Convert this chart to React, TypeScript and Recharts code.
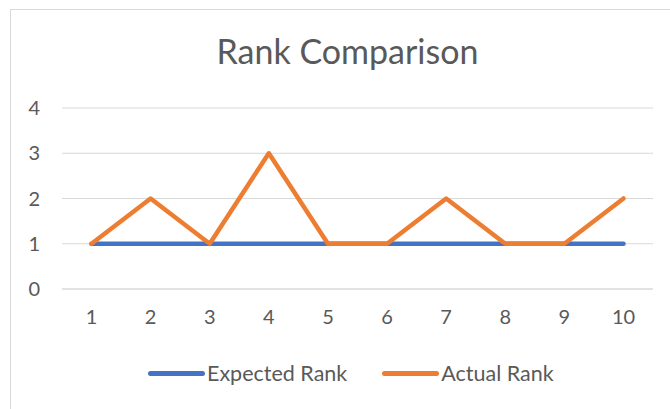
import { LineChart, Line, XAxis, YAxis, CartesianGrid } from "recharts";

const categories = ["1", "2", "3", "4", "5", "6", "7", "8", "9", "10"];
const expectedRank = [1, 1, 1, 1, 1, 1, 1, 1, 1, 1];
const actualRank = [1, 2, 1, 3, 1, 1, 2, 1, 1, 2];
const yTicks = [0, 1, 2, 3, 4];

const BLUE = "#4472C4";
const ORANGE = "#ED7D31";
const TEXT = "#595959";
const FONT = "Lato, 'Open Sans', sans-serif";

const data = categories.map((c, i) => ({
  name: c,
  expected: expectedRank[i],
  actual: actualRank[i],
}));

function LegendItem({ color, label }: { color: string; label: string }) {
  return (
    <span style={{ display: "inline-flex", alignItems: "center" }}>
      <span
        style={{
          display: "inline-block",
          width: 57,
          height: 5,
          borderRadius: 3,
          background: color,
          marginRight: 2,
        }}
      />
      <span>{label}</span>
    </span>
  );
}

export default function App() {
  return (
    <div
      style={{
        position: "absolute",
        left: 0,
        top: 0,
        width: 670,
        height: 409,
        overflow: "hidden",
        background: "#fff",
        fontFamily: FONT,
      }}
    >
      <div
        style={{
          position: "absolute",
          left: 10,
          top: 9,
          width: 700,
          height: 420,
          border: "1px solid #d9d9d9",
        }}
      />
      <div
        style={{
          position: "absolute",
          left: 10,
          width: 675,
          top: 31,
          textAlign: "center",
          fontSize: 34,
          color: TEXT,
          lineHeight: "40px",
        }}
      >
        Rank Comparison
      </div>
      <LineChart
        width={670}
        height={409}
        data={data}
        margin={{ top: 108, right: 17, bottom: 90, left: 0 }}
        style={{ position: "absolute", left: 0, top: 0 }}
      >
        <CartesianGrid stroke="#d9d9d9" vertical={false} />
        <XAxis
          dataKey="name"
          height={30}
          padding={{ left: 29.5, right: 29.5 }}
          axisLine={{ stroke: "#d9d9d9" }}
          tickLine={false}
          tickSize={0}
          tickMargin={21}
          tick={{ fontSize: 20, fill: TEXT, fontFamily: FONT }}
          interval={0}
        />
        <YAxis
          width={62}
          domain={[0, 4]}
          ticks={yTicks}
          axisLine={false}
          tickLine={false}
          tickSize={0}
          tickMargin={22}
          tick={{ fontSize: 20, fill: TEXT, fontFamily: FONT }}
        />
        <Line
          dataKey="expected"
          stroke={BLUE}
          strokeWidth={4.5}
          dot={false}
          isAnimationActive={false}
          strokeLinecap="round"
          strokeLinejoin="round"
        />
        <Line
          dataKey="actual"
          stroke={ORANGE}
          strokeWidth={4.5}
          dot={false}
          isAnimationActive={false}
          strokeLinecap="round"
          strokeLinejoin="round"
        />
      </LineChart>
      <div
        style={{
          position: "absolute",
          left: 148,
          top: 359,
          fontSize: 21.5,
          color: TEXT,
          display: "flex",
          gap: 35,
          lineHeight: "28px",
        }}
      >
        <LegendItem color={BLUE} label="Expected Rank" />
        <LegendItem color={ORANGE} label="Actual Rank" />
      </div>
    </div>
  );
}
